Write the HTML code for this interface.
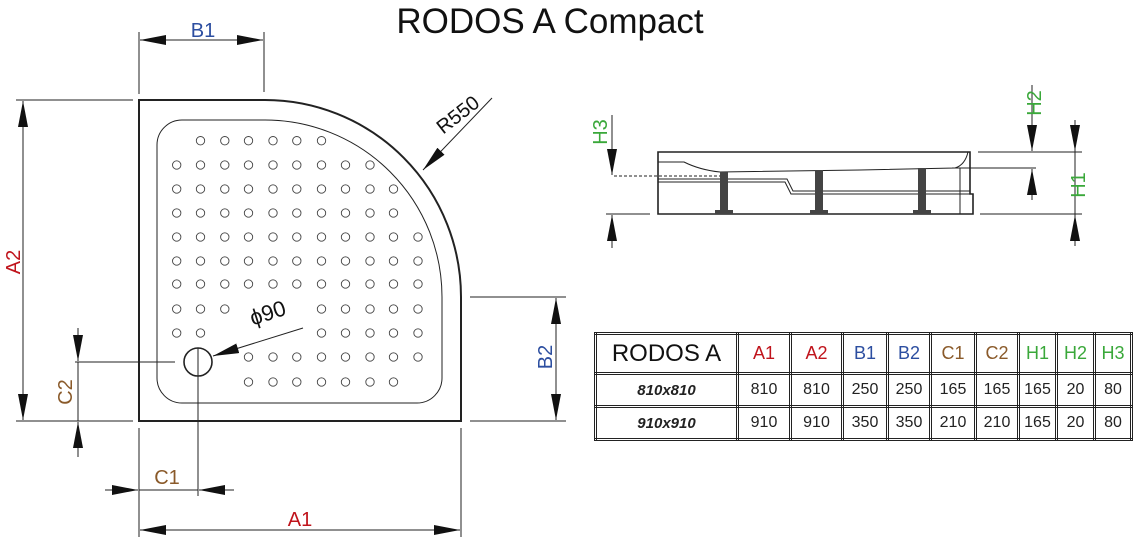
<!DOCTYPE html>
<html><head><meta charset="utf-8"><style>
body{margin:0;background:#fff;width:1137px;height:543px;overflow:hidden;font-family:"Liberation Sans",sans-serif}
svg{position:absolute;left:0;top:0}
table{position:absolute;left:594px;top:332px;border-collapse:collapse;font-family:"Liberation Sans",sans-serif;table-layout:fixed;width:536px}
td{border:3px double #222;text-align:center;padding:0;font-size:16px;color:#222;overflow:hidden}
</style></head><body>
<svg width="1137" height="543" viewBox="0 0 1137 543">
<defs>
<marker id="ar" viewBox="0 0 26 10" refX="26" refY="5" markerWidth="26" markerHeight="10" markerUnits="userSpaceOnUse" orient="auto-start-reverse"><path d="M0,0L26,5L0,10z" fill="#111"/></marker>
</defs>
<text x="550" y="33" font-size="35" text-anchor="middle" font-family="Liberation Sans" fill="#111">RODOS A Compact</text>
<g stroke="#222" fill="none" stroke-width="1">
<path d="M139,100 H265 A196,197 0 0 1 461,297 V421 H139 Z" stroke-width="2"/>
<path d="M182,120 H265 A177,177 0 0 1 442,297 V378 A25,25 0 0 1 417,403 H182 A25,25 0 0 1 157,378 V145 A25,25 0 0 1 182,120 Z"/>
<circle cx="198" cy="362" r="14" stroke-width="1.6"/>
<line x1="75" y1="362" x2="175" y2="362"/>
<line x1="198" y1="348" x2="198" y2="496"/>
<line x1="139" y1="32" x2="139" y2="94"/><line x1="264" y1="32" x2="264" y2="92"/>
<line x1="140" y1="40" x2="263" y2="40" marker-start="url(#ar)" marker-end="url(#ar)"/>
<line x1="16" y1="100" x2="133" y2="100"/><line x1="16" y1="421" x2="133" y2="421"/>
<line x1="23" y1="101" x2="23" y2="420" marker-start="url(#ar)" marker-end="url(#ar)"/>
<line x1="470" y1="297" x2="566" y2="297"/><line x1="470" y1="421" x2="566" y2="421"/>
<line x1="556" y1="298" x2="556" y2="420" marker-start="url(#ar)" marker-end="url(#ar)"/>
<line x1="78" y1="328" x2="78" y2="361" marker-end="url(#ar)"/>
<line x1="78" y1="457" x2="78" y2="422" marker-end="url(#ar)"/>
<line x1="78" y1="362" x2="78" y2="421"/>
<line x1="105" y1="490" x2="138" y2="490" marker-end="url(#ar)"/>
<line x1="234" y1="490" x2="199" y2="490" marker-end="url(#ar)"/>
<line x1="139" y1="490" x2="198" y2="490"/>
<line x1="139" y1="428" x2="139" y2="537"/><line x1="461" y1="428" x2="461" y2="537"/>
<line x1="140" y1="530" x2="460" y2="530" marker-start="url(#ar)" marker-end="url(#ar)"/>
<line x1="492" y1="98" x2="423" y2="170" marker-end="url(#ar)"/>
<line x1="303" y1="328" x2="213" y2="356" marker-end="url(#ar)"/>
<path d="M658,152 H970 V194 H973 V214 H658 Z" stroke-width="1.6"/>
<path d="M658,162 H684 Q700,170 720,172 L860,170 L955,168 Q965,165 968,152"/>
<path d="M952,168 H960 V214"/>
<path d="M658,179 H787 L793,191 H970"/><path d="M658,182 H785 L791,194 H970"/>
<line x1="606" y1="214" x2="650" y2="214"/>
<line x1="614" y1="176" x2="725" y2="176" stroke-dasharray="3,2"/>
<line x1="612" y1="115" x2="612" y2="175" marker-end="url(#ar)"/>
<line x1="612" y1="248" x2="612" y2="215" marker-end="url(#ar)"/>
<line x1="978" y1="152" x2="1082" y2="152"/><line x1="960" y1="168" x2="1036" y2="168"/>
<line x1="980" y1="214" x2="1082" y2="214"/>
<line x1="1032" y1="85" x2="1032" y2="151" marker-end="url(#ar)"/>
<line x1="1032" y1="200" x2="1032" y2="169" marker-end="url(#ar)"/>
<line x1="1075" y1="120" x2="1075" y2="246"/>
<line x1="1075" y1="122" x2="1075" y2="151" marker-end="url(#ar)"/>
<line x1="1075" y1="245" x2="1075" y2="215" marker-end="url(#ar)"/>
</g>
<g fill="#444">
<rect x="720" y="172" width="8" height="40"/><rect x="715" y="210" width="18" height="4"/>
<rect x="815" y="170" width="8" height="42"/><rect x="810" y="210" width="18" height="4"/>
<rect x="918" y="168" width="8" height="44"/><rect x="913" y="210" width="18" height="4"/>
</g>
<g id="dots" fill="none" stroke="#444" stroke-width="0.9"></g>
<g font-family="Liberation Sans" font-size="20">
<text x="203" y="37" fill="#2c4ea0" text-anchor="middle">B1</text>
<text transform="translate(20,262) rotate(-90)" fill="#c0141c" text-anchor="middle">A2</text>
<text transform="translate(552,357) rotate(-90)" fill="#2c4ea0" text-anchor="middle">B2</text>
<text transform="translate(72,392) rotate(-90)" fill="#8a5a2a" text-anchor="middle">C2</text>
<text x="167" y="484" fill="#8a5a2a" text-anchor="middle">C1</text>
<text x="300" y="526" fill="#c0141c" text-anchor="middle">A1</text>
<text transform="translate(462,120) rotate(-38)" fill="#111" text-anchor="middle">R550</text>
<text transform="translate(270,320) rotate(-18)" fill="#111" text-anchor="middle" font-size="22">ɸ90</text>
<text transform="translate(607,132) rotate(-90)" fill="#3aa83a" text-anchor="middle">H3</text>
<text transform="translate(1041,103) rotate(-90)" fill="#3aa83a" text-anchor="middle">H2</text>
<text transform="translate(1085,185) rotate(-90)" fill="#3aa83a" text-anchor="middle">H1</text>
</g>
</svg>
<table>
<colgroup><col style="width:142px"><col style="width:53px"><col style="width:52px"><col style="width:45px"><col style="width:43px"><col style="width:45px"><col style="width:43px"><col style="width:38px"><col style="width:38px"><col style="width:37px"></colgroup>
<tr style="height:40px"><td style="font-size:24px;color:#111">RODOS A</td><td style="color:#c0141c;font-size:18px">A1</td><td style="color:#c0141c;font-size:18px">A2</td><td style="color:#2c4ea0;font-size:18px">B1</td><td style="color:#2c4ea0;font-size:18px">B2</td><td style="color:#8a5a2a;font-size:18px">C1</td><td style="color:#8a5a2a;font-size:18px">C2</td><td style="color:#3aa83a;font-size:18px">H1</td><td style="color:#3aa83a;font-size:18px">H2</td><td style="color:#3aa83a;font-size:18px">H3</td></tr>
<tr style="height:33px"><td style="font-weight:bold;font-style:italic;font-size:15px">810x810</td><td>810</td><td>810</td><td>250</td><td>250</td><td>165</td><td>165</td><td>165</td><td>20</td><td>80</td></tr>
<tr style="height:33px"><td style="font-weight:bold;font-style:italic;font-size:15px">910x910</td><td>910</td><td>910</td><td>350</td><td>350</td><td>210</td><td>210</td><td>165</td><td>20</td><td>80</td></tr>
</table>
<script>
var xs=[176.7,200.5,224.8,248.5,273,296.8,321.5,345.5,370,393.5,418];
var ys=[140.7,165,189,213,237,261,284,309,333,357,382];
var rows=[[1,6],[0,8],[0,9],[0,9],[0,10],[0,10],[0,10],[0,2,6,10],[0,1,6,10],[3,10],[3,9]];
var g=document.getElementById('dots'),s='';
rows.forEach(function(r,i){for(var k=0;k<r.length;k+=2){for(var c=r[k];c<=r[k+1];c++){s+='<circle cx="'+xs[c]+'" cy="'+ys[i]+'" r="4.2"/>';}}});
g.innerHTML=s;
</script>
</body></html>
